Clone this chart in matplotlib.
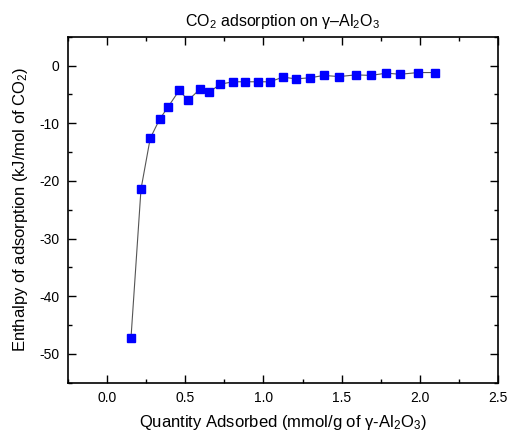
import numpy as np
import matplotlib
matplotlib.use("Agg")
import matplotlib.pyplot as plt
from matplotlib.ticker import MultipleLocator

plt.rcParams['font.family'] = ['Liberation Sans', 'DejaVu Sans']
plt.rcParams['mathtext.fontset'] = 'custom'
plt.rcParams['mathtext.rm'] = 'Liberation Sans'
plt.rcParams['mathtext.it'] = 'Liberation Sans:italic'
plt.rcParams['axes.unicode_minus'] = False

# quantity adsorbed (mmol/g) and differential enthalpy (kJ/mol)
quantity = [0.153, 0.217, 0.276, 0.336, 0.389, 0.461, 0.519, 0.593, 0.653,
            0.725, 0.808, 0.881, 0.964, 1.040, 1.125, 1.210, 1.299, 1.387,
            1.484, 1.591, 1.687, 1.787, 1.872, 1.991, 2.100]
enthalpy = [-47.2, -21.4, -12.6, -9.3, -7.2, -4.3, -6.0, -4.1, -4.6,
            -3.2, -2.8, -2.8, -2.8, -2.8, -2.0, -2.3, -2.1, -1.7,
            -1.9, -1.6, -1.7, -1.3, -1.5, -1.2, -1.2]

fig = plt.figure(figsize=(5.19, 4.38), dpi=100)
ax = fig.add_axes([0.131, 0.126, 0.8285, 0.79])

ax.plot(quantity, enthalpy, color='#555555', linewidth=0.8, zorder=2)
ax.plot(quantity, enthalpy, linestyle='none', marker='s', markersize=6,
        color='#0000ff', markeredgecolor='#0000ff', zorder=3)

ax.set_xlim(-0.25, 2.5)
ax.set_ylim(-55, 5)
ax.xaxis.set_major_locator(MultipleLocator(0.5))
ax.xaxis.set_minor_locator(MultipleLocator(0.25))
ax.yaxis.set_major_locator(MultipleLocator(10))
ax.yaxis.set_minor_locator(MultipleLocator(5))
ax.xaxis.set_major_formatter(plt.FormatStrFormatter('%.1f'))

ax.tick_params(which='both', direction='in', top=True, right=True,
               labelsize=10, width=1.0, pad=6)
ax.tick_params(which='major', length=6)
ax.tick_params(which='minor', length=3)
for s in ax.spines.values():
    s.set_linewidth(1.2)

ax.set_title('CO$_\\mathregular{2}$ adsorption on \u03b3\u2013Al$_\\mathregular{2}$O$_\\mathregular{3}$',
             fontsize=11.5, pad=8)
ax.set_xlabel('Quantity Adsorbed (mmol/g of \u03b3-Al$_\\mathregular{2}$O$_\\mathregular{3}$)',
              fontsize=12, labelpad=6)
ax.set_ylabel('Enthalpy of adsorption (kJ/mol of CO$_\\mathregular{2}$)',
              fontsize=12, labelpad=7)

fig.savefig('out.png', dpi=100)
